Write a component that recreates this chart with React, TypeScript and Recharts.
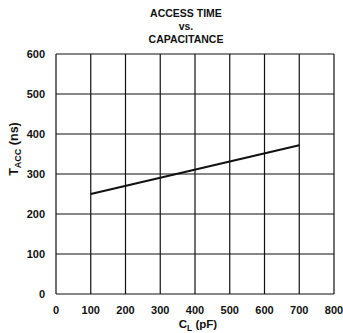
import React from "react";
import { LineChart, Line, XAxis, YAxis, CartesianGrid } from "recharts";

const capacitance = [100, 700];
const accessTime = [250, 372];
const xTicks = [0, 100, 200, 300, 400, 500, 600, 700, 800];
const yTicks = [0, 100, 200, 300, 400, 500, 600];
const titleLines = ["ACCESS TIME", "vs.", "CAPACITANCE"];

const data = capacitance.map((c, i) => ({ c, t: accessTime[i] }));

const FONT = '"Liberation Sans", Arial, Helvetica, sans-serif';
const INK = "#111";

export default function App() {
  return (
    <div style={{ position: "absolute", left: 0, top: 0, width: 343, height: 333, background: "#fff" }}>
      <svg width={343} height={333} style={{ position: "absolute", left: 0, top: 0 }}>
        {titleLines.map((t, i) => (
          <text key={t} x={186} y={17 + i * 13} textAnchor="middle" fontFamily={FONT} fontWeight="bold" fontSize={10.5} fill={INK}>
            {t}
          </text>
        ))}
        <text x={198} y={328} textAnchor="middle" fontFamily={FONT} fontWeight="bold" fontSize={11.5} fill={INK}>
          C<tspan fontSize={8.5} dy={3}>L</tspan><tspan dy={-3}> (pF)</tspan>
        </text>
        <text x={18} y={149} textAnchor="middle" transform="rotate(-90 18 149)" fontFamily={FONT} fontWeight="bold" fontSize={12.5} fill={INK}>
          T<tspan fontSize={9} dy={3}>ACC</tspan><tspan dy={-3}> (ns)</tspan>
        </text>
      </svg>
      <div style={{ position: "absolute", left: 0, top: 0 }}>
        <LineChart width={343} height={333} data={data} margin={{ top: 54, right: 9, bottom: 0, left: 0 }}>
          <CartesianGrid stroke={INK} strokeWidth={1.2} horizontalValues={yTicks} verticalValues={xTicks} />
          <XAxis
            dataKey="c"
            type="number"
            domain={[0, 800]}
            ticks={xTicks}
            height={39}
            axisLine={false}
            tickLine={false}
            tickSize={0}
            tickMargin={12}
            tick={{ fontFamily: FONT, fontWeight: "bold", fontSize: 11, fill: INK }}
            interval={0}
          />
          <YAxis
            type="number"
            domain={[0, 600]}
            ticks={yTicks}
            width={56}
            axisLine={false}
            tickLine={false}
            tickSize={0}
            tickMargin={11}
            tick={{ fontFamily: FONT, fontWeight: "bold", fontSize: 11, fill: INK }}
            interval={0}
          />
          <Line dataKey="t" stroke={INK} strokeWidth={2} dot={false} isAnimationActive={false} />
        </LineChart>
      </div>
    </div>
  );
}
